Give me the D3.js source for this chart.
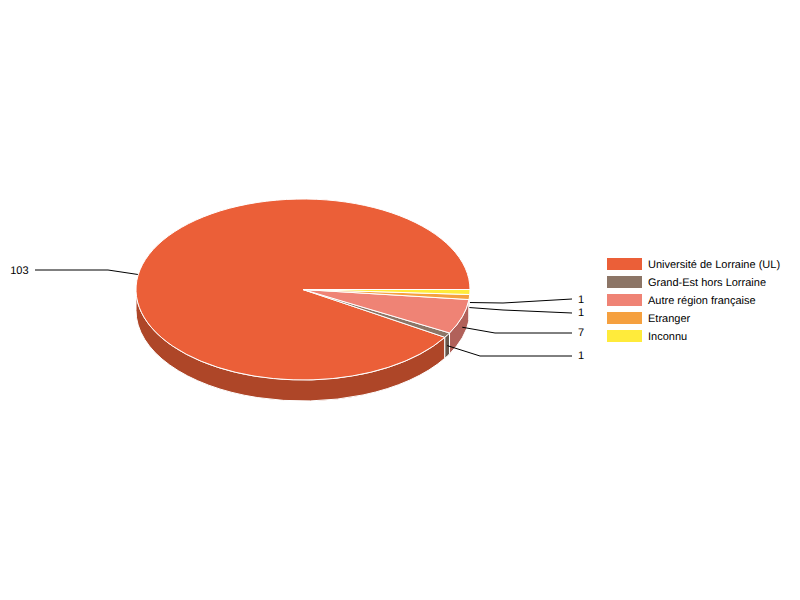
<!DOCTYPE html>
<html>
<head>
<meta charset="utf-8">
<script src="https://cdn.jsdelivr.net/npm/d3@7"></script>
<style>
  body { margin: 0; background: #fff; }
  text { font-family: "Liberation Sans", Arial, sans-serif; font-size: 11px; fill: #000; text-rendering: geometricPrecision; }
</style>
</head>
<body>
<div id="chart"></div>
<script>
// data
var categories = ["Université de Lorraine (UL)", "Grand-Est hors Lorraine", "Autre région française", "Etranger", "Inconnu"];
var values = [103, 1, 7, 1, 1];
var colors = ["#eb5f38", "#8c7566", "#ef8375", "#f5a03f", "#ffeb3b"];
var sideColors = ["#ae4628", "#67574b", "#b1615a", "#b5762f", "#bdae2c"];

var width = 800, height = 600;
var cx = 303, cy = 289.5, rx = 167, ry = 90.5, depth = 21;

// elbow and text position of each leader line, same order as categories
var leaders = [
    { elbow: [108, 270], end: [35, 270], textY: 270, textX: 28.5, anchor: "end" },
    { elbow: [480, 356], end: [572, 356], textY: 355.5, textX: 578, anchor: "start" },
    { elbow: [495, 333], end: [572, 333], textY: 332.5, textX: 578, anchor: "start" },
    { elbow: [503, 310], end: [572, 313], textY: 312.5, textX: 578, anchor: "start" },
    { elbow: [503, 303], end: [572, 299], textY: 299, textX: 578, anchor: "start" }
];

var svg = d3.select("#chart").append("svg")
    .attr("width", width)
    .attr("height", height)
    .style("display", "block");

// unit circle to screen
var xScale = d3.scaleLinear().domain([-1, 1]).range([cx - rx, cx + rx]);
var yScale = d3.scaleLinear().domain([-1, 1]).range([cy - ry, cy + ry]);

// slices run anticlockwise from 3 o'clock
var pie = d3.pie().sort(null).startAngle(Math.PI * 2.5).endAngle(Math.PI * 0.5);
var slices = pie(values).map(function (d) {
    // angle on screen, clockwise from east
    return { data: d, i: d.index, a0: d.endAngle - Math.PI / 2, a1: d.startAngle - Math.PI / 2 };
});

function px(a) { return xScale(Math.cos(a)); }
function py(a) { return yScale(Math.sin(a)); }

function topPath(d) {
    var large = d.a1 - d.a0 > Math.PI ? 1 : 0;
    return "M" + cx + "," + cy + "L" + px(d.a0) + "," + py(d.a0)
        + "A" + rx + "," + ry + " 0 " + large + " 1 " + px(d.a1) + "," + py(d.a1) + "Z";
}

// outer wall, only the part in the front half of the ellipse
function sidePath(d) {
    var a0 = Math.max(d.a0, 0), a1 = Math.min(d.a1, Math.PI);
    if (a1 <= a0) return null;
    return "M" + px(a0) + "," + py(a0)
        + "A" + rx + "," + ry + " 0 0 1 " + px(a1) + "," + py(a1)
        + "L" + px(a1) + "," + (py(a1) + depth)
        + "A" + rx + "," + ry + " 0 0 0 " + px(a0) + "," + (py(a0) + depth) + "Z";
}

svg.append("g").selectAll("path")
    .data(slices)
    .enter()
    .append("path")
    .attr("d", sidePath)
    .attr("fill", function (d) { return sideColors[d.i]; })
    .attr("stroke", "#fff")
    .attr("stroke-width", 1);

// leader lines start halfway down the wall, the pie top covers the one on the back side
var line = d3.line();
svg.append("g").selectAll("path")
    .data(slices)
    .enter()
    .append("path")
    .attr("d", function (d) {
        var mid = (d.a0 + d.a1) / 2;
        var l = leaders[d.i];
        return line([[px(mid), py(mid) + depth / 2], l.elbow, l.end]);
    })
    .attr("fill", "none")
    .attr("stroke", "#000")
    .attr("stroke-width", 1);

svg.append("g").selectAll("path")
    .data(slices)
    .enter()
    .append("path")
    .attr("d", topPath)
    .attr("fill", function (d) { return colors[d.i]; })
    .attr("stroke", "#fff")
    .attr("stroke-width", 1);

svg.append("g").selectAll("text")
    .data(slices)
    .enter()
    .append("text")
    .attr("x", function (d) { return leaders[d.i].textX; })
    .attr("y", function (d) { return leaders[d.i].textY; })
    .attr("dy", "0.35em")
    .attr("text-anchor", function (d) { return leaders[d.i].anchor; })
    .text(function (d) { return values[d.i]; });

// legend
var legendY = d3.scalePoint().domain(categories).range([264, 336]);
var legend = svg.append("g").selectAll("g")
    .data(categories)
    .enter()
    .append("g")
    .attr("transform", function (d) { return "translate(607," + legendY(d) + ")"; });

legend.append("rect")
    .attr("y", -6)
    .attr("width", 35)
    .attr("height", 12)
    .attr("fill", function (d, i) { return colors[i]; });

legend.append("text")
    .attr("x", 41)
    .attr("dy", "0.35em")
    .text(function (d) { return d; });
</script>
</body>
</html>
